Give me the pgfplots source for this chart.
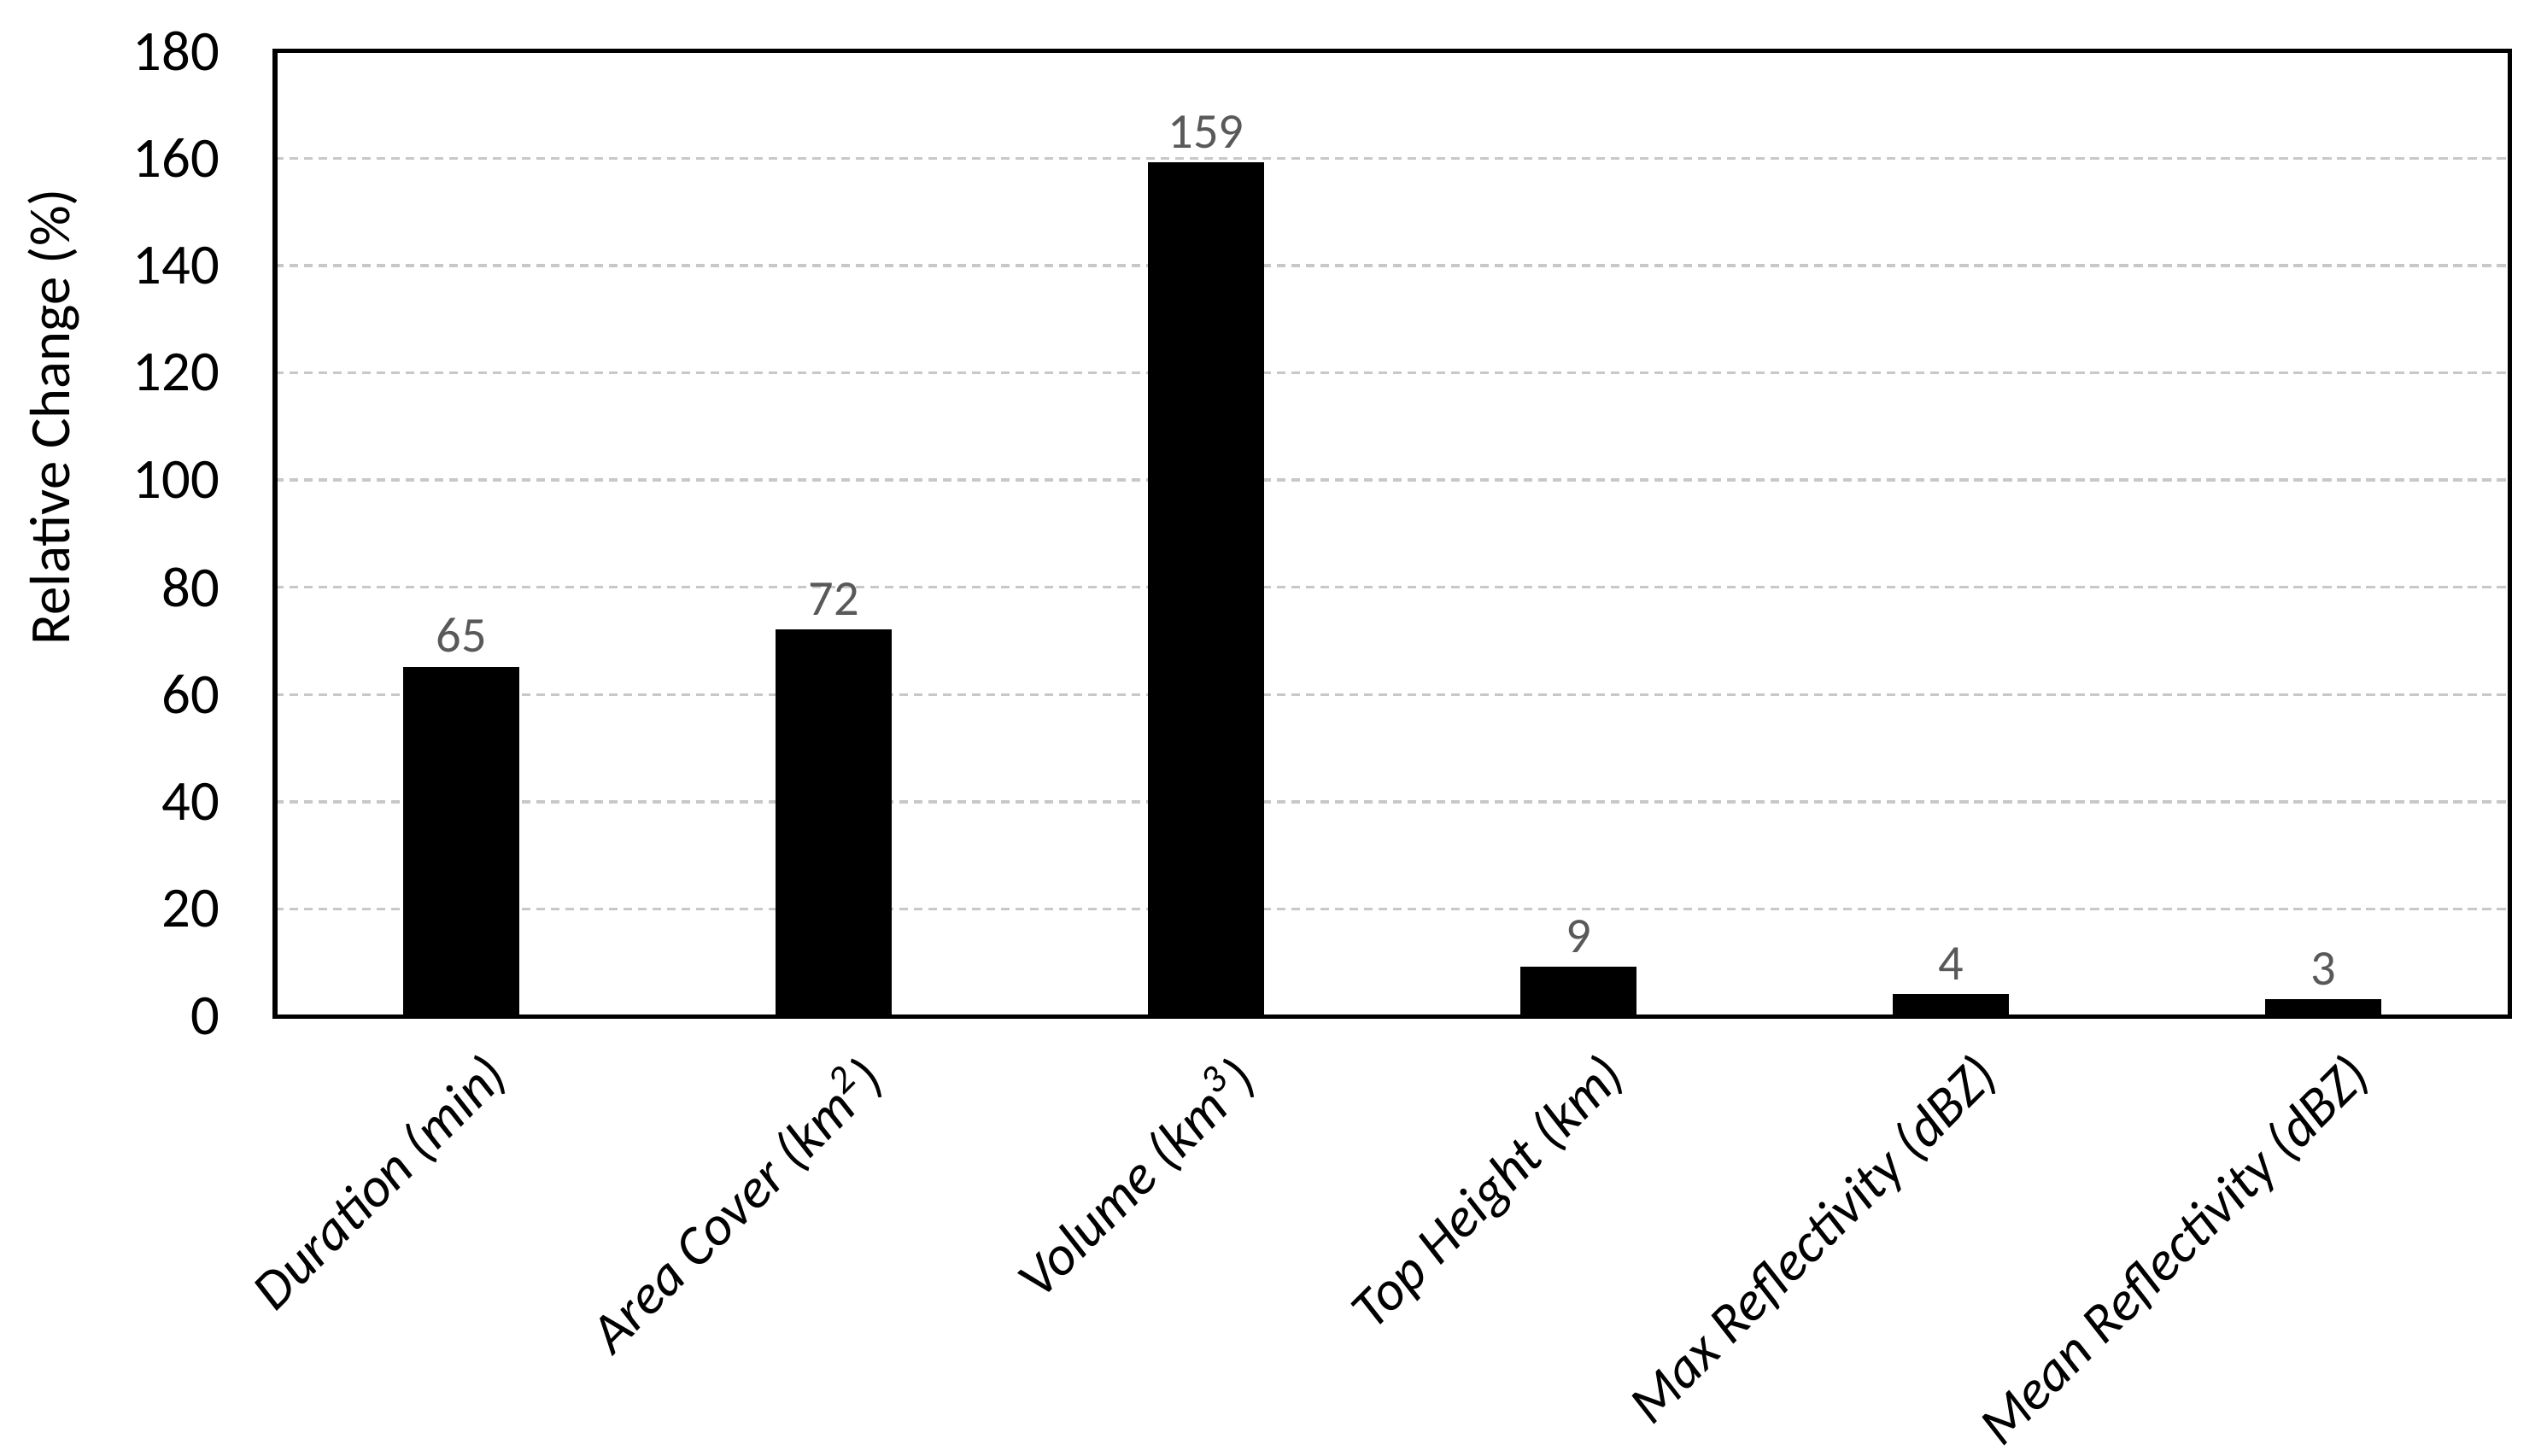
\documentclass[border=0pt]{standalone}
\usepackage{pgfplots}
\pgfplotsset{compat=1.18}
\usepackage{fontspec}
\setmainfont{Carlito}
\definecolor{lblgray}{HTML}{595959}
\definecolor{gridgray}{HTML}{C8C8C8}
\begin{document}
\begin{tikzpicture}
\begin{axis}[
  width=384.7pt, height=166.2pt, scale only axis,
  xmin=-0.5, xmax=5.5, ymin=0, ymax=180,
  ytick={0,20,...,180},
  xtick={0,1,2,3,4,5},
  xticklabels={Duration (min), Area Cover (km\textsuperscript{2}), Volume (km\textsuperscript{3}), Top Height (km), Max Reflectivity (dBZ), Mean Reflectivity (dBZ)},
  major tick length=0pt,
  ymajorgrids,
  grid style={dash pattern=on 1.5pt off 1pt, color=gridgray, line width=0.5pt},
  axis line style={line width=0.75pt},
  tick label style={font=\fontsize{9.8}{12}\selectfont},
  /pgf/number format/assume math mode=true,
  yticklabel style={xshift=-6pt},
  xticklabel style={xshift=3.4pt, yshift=-5.5pt, rotate=45, anchor=north east, inner sep=0pt, font=\fontsize{9.6}{12}\selectfont\itshape},
  ylabel={Relative Change (\%)},
  ylabel style={at={(axis description cs:-0.099,0.621)}, anchor=center, font=\fontsize{9.8}{12}\selectfont},
  clip=false,
]
\addplot[ybar, bar width=19.6pt, fill=black, draw=black,
  nodes near coords,
  nodes near coords style={font=\fontsize{8.6}{10}\selectfont, text=lblgray, inner sep=2.4pt, anchor=south}]
  coordinates {(0,65) (1,72) (2,159) (3,9) (4,4) (5,3)};
\coordinate (sw) at (rel axis cs:0,0);
\coordinate (ne) at (rel axis cs:1,1);
\end{axis}
\pgfresetboundingbox
\path[use as bounding box] ([shift={(-47.35pt,-75.7pt)}]sw) rectangle ([shift={(5.4pt,8.8pt)}]ne);
\end{tikzpicture}
\end{document}
